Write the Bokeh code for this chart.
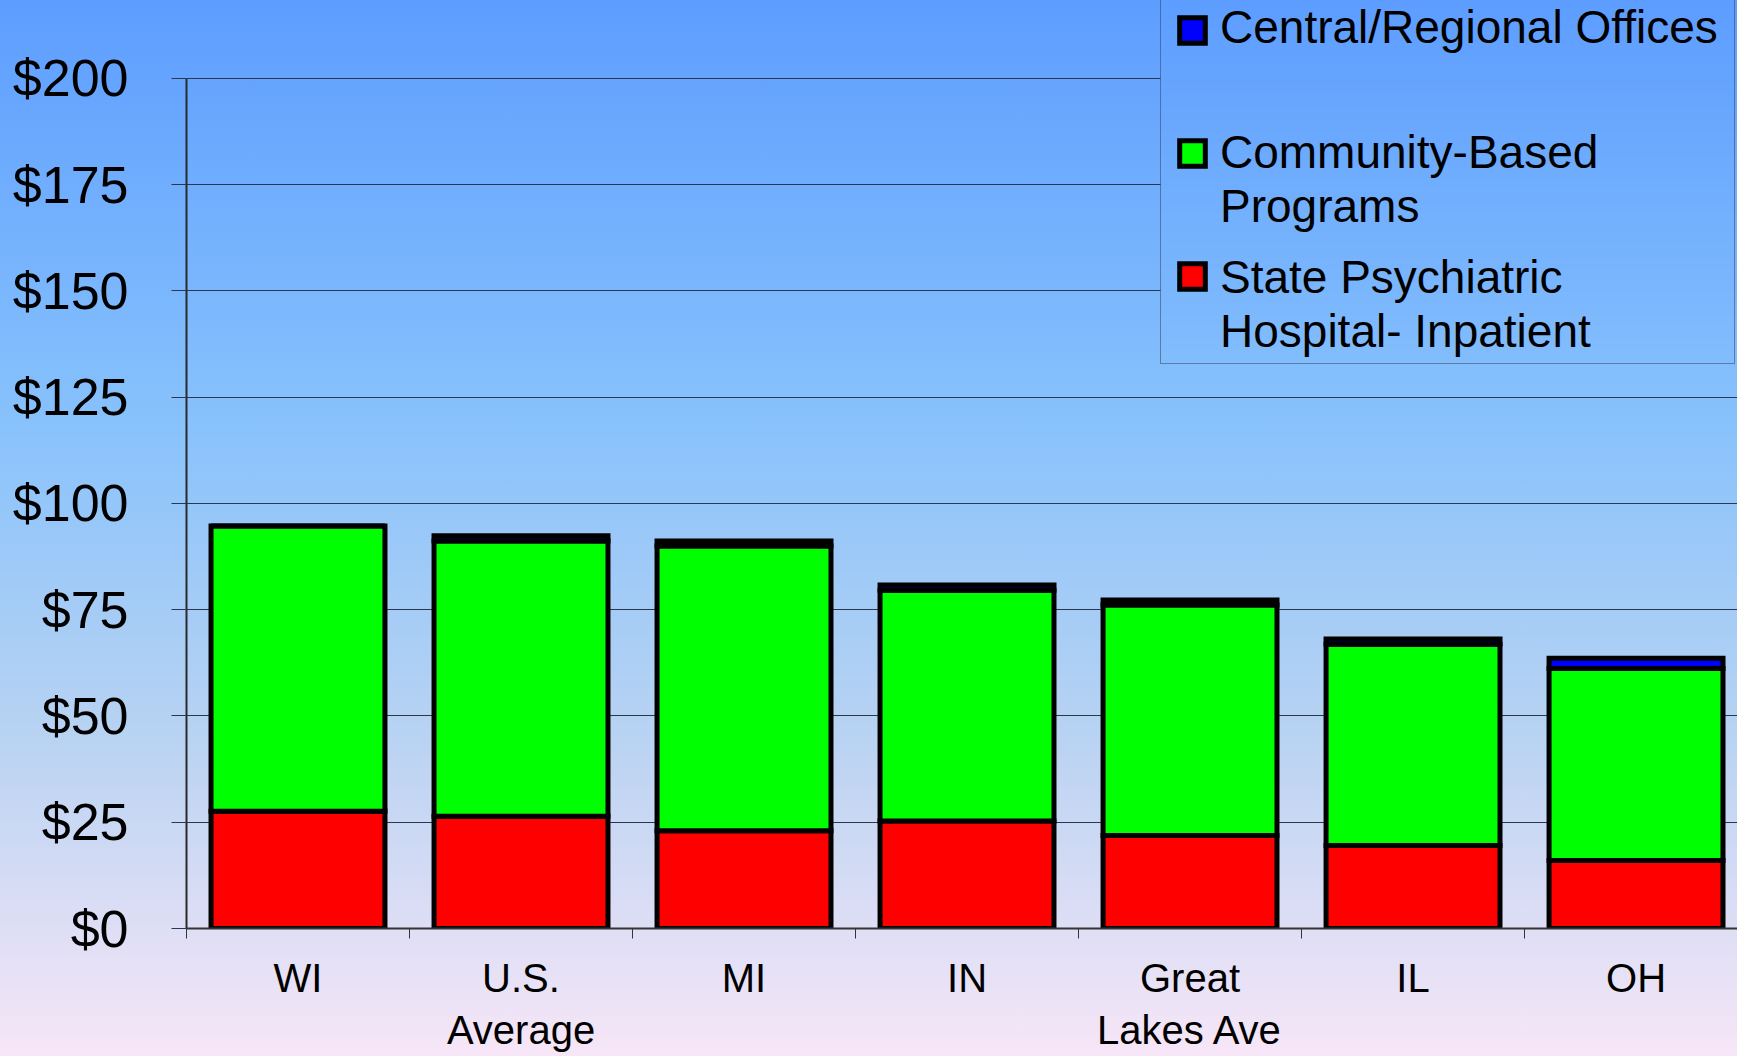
import numpy as np
from bokeh.plotting import figure
from bokeh.models import Range1d, FixedTicker, Legend, LegendItem, ColumnDataSource
from bokeh.embed import file_html
from bokeh.resources import INLINE

categories = ["WI", "U.S.\nAverage", "MI", "IN", "Great\nLakes Ave", "IL", "OH"]
state_hospital = [27.6, 26.4, 23.0, 25.3, 21.9, 19.5, 16.0]
community = [67.1, 64.8, 67.0, 54.3, 54.2, 47.4, 45.2]
central = [0.0, 1.2, 1.2, 1.2, 1.2, 1.2, 2.4]
y_ticks = [0, 25, 50, 75, 100, 125, 150, 175, 200]
y_labels = ["$0", "$25", "$50", "$75", "$100", "$125", "$150", "$175", "$200"]

series_names = ["State Psychiatric\nHospital- Inpatient", "Community-Based\nPrograms",
                "Central/Regional Offices\n "]
series_keys = ["state", "community", "central"]
series_colors = ["#ff0000", "#00ff00", "#0000ff"]

# page background gradient (fraction of height, colour)
grad_stops = [(0.0, "#5d9dff"), (0.4, "#88c2fc"), (0.7, "#b9d3f2"), (1.0, "#f7e6f7")]

W, H = 1737, 1056
FRAME_LEFT, FRAME_BOTTOM = 186, 128
X_END, Y_END = 6.955, 218.35
LEG_LEFT, LEG_BOTTOM = 1160, 364

x_pos = [i + 0.5 for i in range(len(categories))]
source = ColumnDataSource(dict(x=x_pos, state=state_hospital, community=community, central=central))

FONT = "Liberation Sans"

p = figure(width=W, height=H,
           x_range=Range1d(0, X_END), y_range=Range1d(0, Y_END),
           output_backend="svg", toolbar_location=None,
           min_border_left=FRAME_LEFT, min_border_right=0, min_border_top=0,
           min_border_bottom=FRAME_BOTTOM)
css_stops = ", ".join(f"{c} {int(f*100)}%" for f, c in grad_stops)
p.styles = {"position": "fixed", "top": "0px", "left": "0px",
            "background-image": f"linear-gradient(to bottom, {css_stops})"}
p.background_fill_alpha = 0
p.border_fill_alpha = 0
p.outline_line_color = None

# legend backdrop: same gradient, so grid lines stop at the legend box as in the original
px_x = (W - FRAME_LEFT) / X_END
px_y = (H - FRAME_BOTTOM) / Y_END
rows = LEG_BOTTOM
def hex_rgb(h):
    return np.array([int(h[i:i+2], 16) for i in (1, 3, 5)], dtype=float)
fr = np.array([f for f, _ in grad_stops]) * H
cols = np.array([hex_rgb(c) for _, c in grad_stops])
cy = LEG_BOTTOM - np.arange(rows) - 0.5          # canvas y of each image row (row 0 at bottom)
rgb = np.stack([np.interp(cy, fr, cols[:, k]) for k in range(3)], axis=1)
ncol = 4
img = np.zeros((rows, ncol), dtype=np.uint32)
view = img.view(dtype=np.uint8).reshape((rows, ncol, 4))
view[:, :, 0] = np.round(rgb[:, 0])[:, None]
view[:, :, 1] = np.round(rgb[:, 1])[:, None]
view[:, :, 2] = np.round(rgb[:, 2])[:, None]
view[:, :, 3] = 255
p.image_rgba(image=[img], x=(LEG_LEFT - FRAME_LEFT) / px_x, y=(H - FRAME_BOTTOM - LEG_BOTTOM) / px_y,
             dw=(W - LEG_LEFT) / px_x, dh=LEG_BOTTOM / px_y)

renderers = p.vbar_stack(series_keys, x="x", width=0.78, source=source,
                         fill_color=series_colors, line_color="black", line_width=5,
                         line_join="miter")

# invisible stand-ins so the text legend carries no swatch of its own
blank = [p.vbar(x=[], top=[], width=0.5, fill_alpha=0, line_alpha=0) for _ in series_keys]

p.xgrid.visible = False
p.ygrid.ticker = FixedTicker(ticks=y_ticks)
p.ygrid.grid_line_color = "#2b3650"
p.ygrid.grid_line_width = 1

ya = p.yaxis[0]
ya.ticker = FixedTicker(ticks=y_ticks)
ya.major_label_overrides = {t: l for t, l in zip(y_ticks, y_labels)}
ya.bounds = (0, 200)
ya.axis_line_color = "#2a2a2a"
ya.axis_line_width = 2
ya.major_tick_line_color = "#2b3650"
ya.major_tick_out = 15
ya.major_tick_in = 0
ya.minor_tick_line_color = None
ya.major_label_standoff = 43
ya.major_label_text_font = FONT
ya.major_label_text_font_size = "52px"
ya.major_label_text_color = "black"

xa = p.xaxis[0]
xa.ticker = FixedTicker(ticks=x_pos, minor_ticks=list(range(len(categories))))
xa.major_label_overrides = {x: c for x, c in zip(x_pos, categories)}
xa.axis_line_color = "#333333"
xa.axis_line_width = 2
xa.major_tick_line_color = None
xa.major_tick_out = 10
xa.minor_tick_line_color = "#333333"
xa.minor_tick_out = 10
xa.minor_tick_in = 0
xa.major_label_standoff = 17
xa.major_label_text_font = FONT
xa.major_label_text_font_size = "40px"
xa.major_label_text_color = "black"

order = (2, 1, 0)
text_legend = Legend(items=[LegendItem(label=series_names[i], renderers=[blank[i]]) for i in order],
                     location=(LEG_LEFT - FRAME_LEFT, H - FRAME_BOTTOM - LEG_BOTTOM),
                     label_text_font=FONT, label_text_font_size="46px", label_text_color="black",
                     glyph_width=32, glyph_height=32, label_standoff=22, label_width=509,
                     padding=5, spacing=17, margin=0,
                     border_line_color="#333a55", border_line_width=1,
                     background_fill_alpha=0)
swatch_legend = Legend(items=[LegendItem(label=" ", renderers=[renderers[i]]) for i in order],
                       location=(990, 625),
                       label_text_font=FONT, label_text_font_size="46px",
                       glyph_width=32, glyph_height=32, label_standoff=0, label_width=0,
                       label_height=54, padding=0, spacing=69, margin=0,
                       border_line_alpha=0, background_fill_alpha=0)
p.add_layout(text_legend, "center")
p.add_layout(swatch_legend, "center")

open("out.html", "w").write(file_html(p, INLINE))
